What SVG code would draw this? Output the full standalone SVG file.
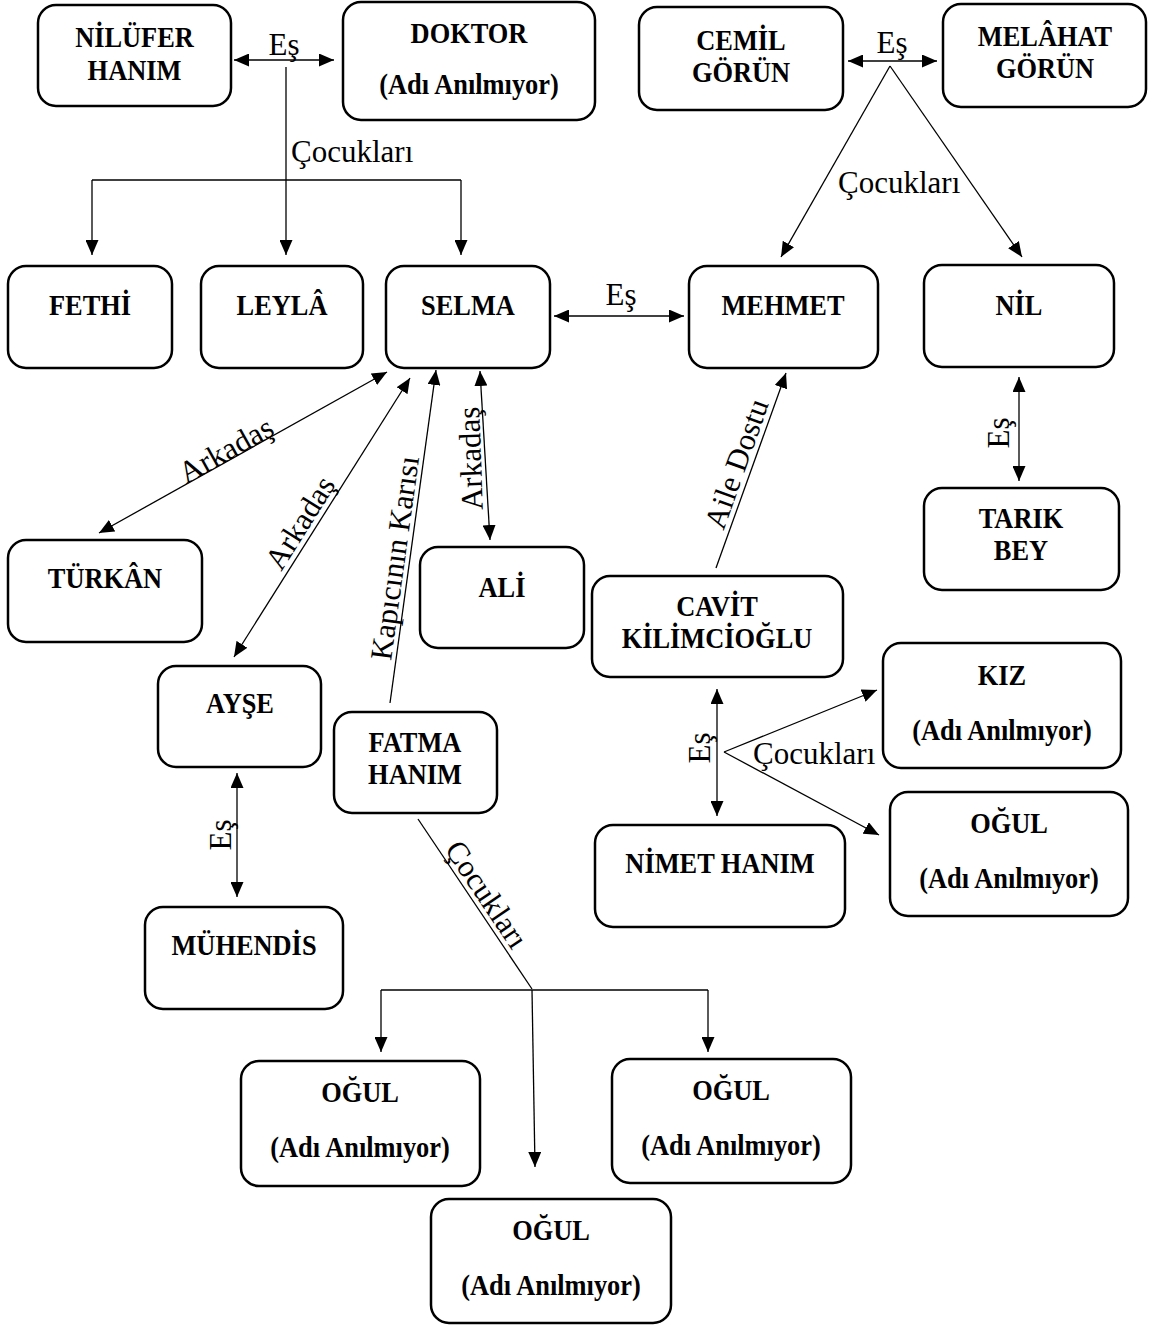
<svg xmlns="http://www.w3.org/2000/svg" width="1152" height="1325" viewBox="0 0 1152 1325">
<style>
.box{fill:#fff;stroke:#000;stroke-width:2.5}
.nt{font-family:"Liberation Serif","Times New Roman",serif;font-weight:bold;font-size:29px;text-anchor:middle;fill:#000}
.lb{font-family:"Liberation Serif","Times New Roman",serif;font-size:31px;fill:#000}
.c{text-anchor:middle}
.ln{stroke:#000;stroke-width:1.3;fill:none}
</style>
<defs>
<marker id="ah" viewBox="0 0 15 13" refX="15" refY="6.5" markerWidth="15" markerHeight="13" markerUnits="userSpaceOnUse" orient="auto-start-reverse"><path d="M0,0 L15,6.5 L0,13 z" fill="#000"/></marker>
</defs>
<rect width="1152" height="1325" fill="#fff"/>
<g id="connectors">
<line class="ln" x1="234" y1="60" x2="334" y2="60" marker-start="url(#ah)" marker-end="url(#ah)"/>
<line class="ln" x1="286" y1="67" x2="286" y2="255" marker-end="url(#ah)"/>
<line class="ln" x1="92" y1="180" x2="461" y2="180"/>
<line class="ln" x1="92" y1="180" x2="92" y2="255" marker-end="url(#ah)"/>
<line class="ln" x1="461" y1="180" x2="461" y2="255" marker-end="url(#ah)"/>
<line class="ln" x1="848" y1="61" x2="937" y2="61" marker-start="url(#ah)" marker-end="url(#ah)"/>
<line class="ln" x1="890" y1="66" x2="781" y2="257" marker-end="url(#ah)"/>
<line class="ln" x1="890" y1="66" x2="1022" y2="257" marker-end="url(#ah)"/>
<line class="ln" x1="554" y1="316" x2="684" y2="316" marker-start="url(#ah)" marker-end="url(#ah)"/>
<line class="ln" x1="1019" y1="377" x2="1019" y2="481" marker-start="url(#ah)" marker-end="url(#ah)"/>
<line class="ln" x1="387" y1="372" x2="99" y2="533" marker-start="url(#ah)" marker-end="url(#ah)"/>
<line class="ln" x1="410" y1="378" x2="234" y2="657" marker-start="url(#ah)" marker-end="url(#ah)"/>
<line class="ln" x1="390" y1="703" x2="436" y2="370" marker-end="url(#ah)"/>
<line class="ln" x1="480" y1="371" x2="490" y2="540" marker-start="url(#ah)" marker-end="url(#ah)"/>
<line class="ln" x1="716" y1="568" x2="786" y2="373" marker-end="url(#ah)"/>
<line class="ln" x1="237" y1="773" x2="237" y2="897" marker-start="url(#ah)" marker-end="url(#ah)"/>
<line class="ln" x1="717" y1="689" x2="717" y2="816" marker-start="url(#ah)" marker-end="url(#ah)"/>
<line class="ln" x1="724" y1="752" x2="877" y2="690" marker-end="url(#ah)"/>
<line class="ln" x1="724" y1="752" x2="879" y2="835" marker-end="url(#ah)"/>
<line class="ln" x1="418" y1="819" x2="532" y2="989"/>
<line class="ln" x1="381" y1="990" x2="708" y2="990"/>
<line class="ln" x1="381" y1="990" x2="381" y2="1052" marker-end="url(#ah)"/>
<line class="ln" x1="708" y1="990" x2="708" y2="1052" marker-end="url(#ah)"/>
<line class="ln" x1="532" y1="990" x2="535" y2="1167" marker-end="url(#ah)"/>
<text class="lb c" x="284" y="55">Eş</text>
<text class="lb" x="291" y="162">Çocukları</text>
<text class="lb c" x="892" y="53">Eş</text>
<text class="lb" x="838" y="193">Çocukları</text>
<text class="lb c" x="621" y="305">Eş</text>
<text class="lb c" transform="translate(1009,433) rotate(-90)">Eş</text>
<text class="lb c" transform="translate(231,835) rotate(-90)">Eş</text>
<text class="lb c" transform="translate(710,748) rotate(-90)">Eş</text>
<text class="lb" x="753" y="764">Çocukları</text>
<text class="lb c" transform="translate(231,459) rotate(-29.2)">Arkadaş</text>
<text class="lb c" transform="translate(313,531) rotate(-57.8)" y="-5">Arkadaş</text>
<text class="lb c" transform="translate(410,560) rotate(-82.1)" y="-5">Kapıcının Karısı</text>
<text class="lb c" transform="translate(485,458) rotate(-92)" y="-4">Arkadaş</text>
<text class="lb c" transform="translate(751,469) rotate(-70.3)" y="-5">Aile Dostu</text>
<text class="lb c" transform="translate(474,903) rotate(56)" y="-5">Çocukları</text>
</g>
<g id="n-nilufer"><rect class="box" x="38" y="5" width="193" height="101" rx="18"/><text class="nt" transform="translate(134.5,47) scale(0.91,1)">NİLÜFER</text><text class="nt" transform="translate(134.5,80) scale(0.91,1)">HANIM</text></g>
<g id="n-doktor"><rect class="box" x="343" y="2" width="252" height="118" rx="18"/><text class="nt" transform="translate(469,43) scale(0.91,1)">DOKTOR</text><text class="nt" transform="translate(469,94) scale(0.91,1)">(Adı Anılmıyor)</text></g>
<g id="n-cemil"><rect class="box" x="639" y="7" width="204" height="103" rx="18"/><text class="nt" transform="translate(741,50) scale(0.91,1)">CEMİL</text><text class="nt" transform="translate(741,82) scale(0.91,1)">GÖRÜN</text></g>
<g id="n-melahat"><rect class="box" x="943" y="4" width="203" height="103" rx="18"/><text class="nt" transform="translate(1045,46) scale(0.91,1)">MELÂHAT</text><text class="nt" transform="translate(1045,78) scale(0.91,1)">GÖRÜN</text></g>
<g id="n-fethi"><rect class="box" x="8" y="266" width="164" height="102" rx="18"/><text class="nt" transform="translate(90,315) scale(0.91,1)">FETHİ</text></g>
<g id="n-leyla"><rect class="box" x="201" y="266" width="162" height="102" rx="18"/><text class="nt" transform="translate(282,315) scale(0.91,1)">LEYLÂ</text></g>
<g id="n-selma"><rect class="box" x="386" y="266" width="164" height="102" rx="18"/><text class="nt" transform="translate(468,315) scale(0.91,1)">SELMA</text></g>
<g id="n-mehmet"><rect class="box" x="689" y="266" width="189" height="102" rx="18"/><text class="nt" transform="translate(783,315) scale(0.91,1)">MEHMET</text></g>
<g id="n-nil"><rect class="box" x="924" y="265" width="190" height="102" rx="18"/><text class="nt" transform="translate(1019,315) scale(0.91,1)">NİL</text></g>
<g id="n-turkan"><rect class="box" x="8" y="540" width="194" height="102" rx="18"/><text class="nt" transform="translate(105,588) scale(0.91,1)">TÜRKÂN</text></g>
<g id="n-ali"><rect class="box" x="420" y="547" width="164" height="101" rx="18"/><text class="nt" transform="translate(502,597) scale(0.91,1)">ALİ</text></g>
<g id="n-cavit"><rect class="box" x="592" y="576" width="251" height="101" rx="18"/><text class="nt" transform="translate(717,616) scale(0.91,1)">CAVİT</text><text class="nt" transform="translate(717,648) scale(0.91,1)">KİLİMCİOĞLU</text></g>
<g id="n-tarik"><rect class="box" x="924" y="488" width="195" height="102" rx="18"/><text class="nt" transform="translate(1021,528) scale(0.91,1)">TARIK</text><text class="nt" transform="translate(1021,560) scale(0.91,1)">BEY</text></g>
<g id="n-ayse"><rect class="box" x="158" y="666" width="163" height="101" rx="18"/><text class="nt" transform="translate(240,713) scale(0.91,1)">AYŞE</text></g>
<g id="n-fatma"><rect class="box" x="334" y="712" width="163" height="101" rx="18"/><text class="nt" transform="translate(415,752) scale(0.91,1)">FATMA</text><text class="nt" transform="translate(415,784) scale(0.91,1)">HANIM</text></g>
<g id="n-kiz"><rect class="box" x="883" y="643" width="238" height="125" rx="18"/><text class="nt" transform="translate(1002,685) scale(0.91,1)">KIZ</text><text class="nt" transform="translate(1002,740) scale(0.91,1)">(Adı Anılmıyor)</text></g>
<g id="n-ogul1"><rect class="box" x="890" y="792" width="238" height="124" rx="18"/><text class="nt" transform="translate(1009,833) scale(0.91,1)">OĞUL</text><text class="nt" transform="translate(1009,888) scale(0.91,1)">(Adı Anılmıyor)</text></g>
<g id="n-nimet"><rect class="box" x="595" y="825" width="250" height="102" rx="18"/><text class="nt" transform="translate(720,873) scale(0.91,1)">NİMET HANIM</text></g>
<g id="n-muhendis"><rect class="box" x="145" y="907" width="198" height="102" rx="18"/><text class="nt" transform="translate(244,955) scale(0.91,1)">MÜHENDİS</text></g>
<g id="n-ogul2"><rect class="box" x="241" y="1061" width="239" height="125" rx="18"/><text class="nt" transform="translate(360,1102) scale(0.91,1)">OĞUL</text><text class="nt" transform="translate(360,1157) scale(0.91,1)">(Adı Anılmıyor)</text></g>
<g id="n-ogul3"><rect class="box" x="612" y="1059" width="239" height="124" rx="18"/><text class="nt" transform="translate(731,1100) scale(0.91,1)">OĞUL</text><text class="nt" transform="translate(731,1155) scale(0.91,1)">(Adı Anılmıyor)</text></g>
<g id="n-ogul4"><rect class="box" x="431" y="1199" width="240" height="124" rx="18"/><text class="nt" transform="translate(551,1240) scale(0.91,1)">OĞUL</text><text class="nt" transform="translate(551,1295) scale(0.91,1)">(Adı Anılmıyor)</text></g>
</svg>
